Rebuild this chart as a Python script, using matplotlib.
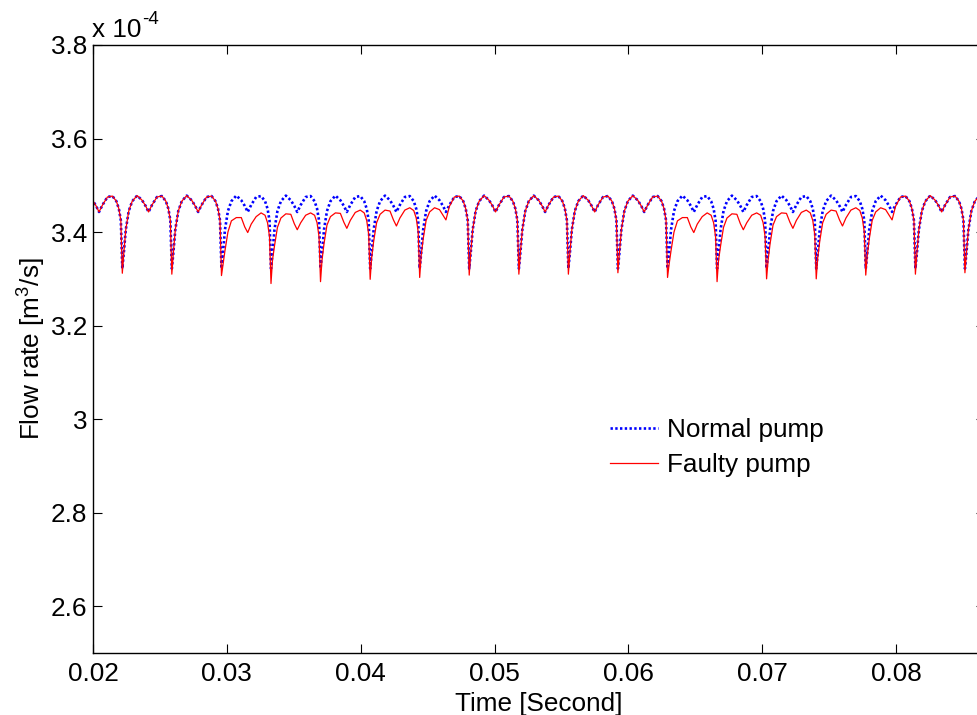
import numpy as np
import matplotlib
matplotlib.use('Agg')
from matplotlib import pyplot as plt

plt.rcParams['font.family'] = ['Liberation Sans', 'DejaVu Sans']
plt.rcParams['mathtext.default'] = 'regular'

# dip positions of the flow ripple (s)
dip_t = [0.01849, 0.02219, 0.02589, 0.02960, 0.03330, 0.03700, 0.04071,
         0.04441, 0.04811, 0.05182, 0.05552, 0.05922, 0.06293, 0.06663,
         0.07033, 0.07404, 0.07774, 0.08145, 0.08515, 0.08885]

# depth of each dip (x 1e-4 m^3/s)
blue_dip = 3.322
red_dip = [3.312, 3.312, 3.310, 3.307, 3.290, 3.294, 3.299, 3.303, 3.308, 3.310,
           3.310, 3.313, 3.303, 3.294, 3.300, 3.300, 3.308, 3.310, 3.313, 3.312]

# position inside one ripple period (0 = dip) and the values read there
phase = [0.0, 0.03, 0.07, 0.13, 0.2, 0.3, 0.4, 0.47, 0.53, 0.6, 0.7, 0.8, 0.88, 0.93, 0.97]
shape_n = [3.355, 3.405, 3.445, 3.466, 3.478, 3.468, 3.456, 3.443, 3.458, 3.475, 3.477, 3.466, 3.450, 3.425]
shape_a = [3.330, 3.360, 3.400, 3.424, 3.431, 3.431, 3.411, 3.399, 3.417, 3.433, 3.441, 3.436, 3.420, 3.390]
shape_b = [3.340, 3.370, 3.410, 3.430, 3.439, 3.438, 3.418, 3.405, 3.420, 3.436, 3.441, 3.436, 3.420, 3.390]
shape_c = [3.340, 3.375, 3.415, 3.433, 3.441, 3.440, 3.421, 3.408, 3.425, 3.442, 3.447, 3.441, 3.425, 3.395]
shape_d = [3.345, 3.380, 3.420, 3.438, 3.447, 3.445, 3.426, 3.413, 3.430, 3.447, 3.452, 3.446, 3.430, 3.400]
shape_e = [3.350, 3.385, 3.425, 3.443, 3.452, 3.448, 3.436, 3.426, 3.455, 3.475, 3.477, 3.466, 3.450, 3.425]
shapes = {'N': shape_n, 'A': shape_a, 'B': shape_b, 'C': shape_c, 'D': shape_d, 'E': shape_e}

# which shape the faulty pump follows in each period
red_kind = 'NNNABCDENNNNABCDENN'

xticks = [0.02, 0.03, 0.04, 0.05, 0.06, 0.07, 0.08]
xtick_labels = ['0.02', '0.03', '0.04', '0.05', '0.06', '0.07', '0.08']
yticks = [2.6, 2.8, 3.0, 3.2, 3.4, 3.6, 3.8]
ytick_labels = ['2.6', '2.8', '3', '3.2', '3.4', '3.6', '3.8']

t, normal, faulty = [], [], []
for i, kind in enumerate(red_kind):
    t0, t1 = dip_t[i], dip_t[i + 1]
    for j, ph in enumerate(phase):
        t.append(t0 + ph * (t1 - t0))
        if j == 0:
            normal.append(blue_dip)
            faulty.append(red_dip[i])
        else:
            normal.append(shape_n[j - 1])
            faulty.append(shapes[kind][j - 1])
t.append(dip_t[-1])
normal.append(blue_dip)
faulty.append(red_dip[-1])

fs = 18.8
fig = plt.figure(figsize=(9.77, 7.15), dpi=100)
ax = fig.add_axes([93 / 977, 62 / 715, 892 / 977, 608 / 715])

ax.plot(t, normal, color='#0000ff', linestyle=(0, (0.9, 0.9)), linewidth=1.9, label='Normal pump')
ax.plot(t, faulty, color='#ff0000', linewidth=0.9, label='Faulty pump')

ax.set_xlim(0.02, 0.08665)
ax.set_ylim(2.5, 3.8)
ax.set_xticks(xticks)
ax.set_xticklabels(xtick_labels)
ax.set_yticks(yticks)
ax.set_yticklabels(ytick_labels)
ax.tick_params(direction='in', length=6.5, width=0.8, top=True, right=True,
               labelsize=fs, pad=4)
ax.tick_params(axis='x', pad=6.5)
for s in ax.spines.values():
    s.set_linewidth(1.0)

ax.set_xlabel('Time [Second]', fontsize=fs, labelpad=4)
ax.set_ylabel('Flow rate [m$^3$/s]', fontsize=fs, labelpad=2)

# exponent label, the way matlab puts it above the axis
fig.text(92 / 977, 1 - 37 / 715, 'x 10', fontsize=fs, ha='left', va='baseline')
fig.text(142 / 977, 1 - 24 / 715, '-4', fontsize=13.5, ha='left', va='baseline')

ax.legend(loc='upper left', bbox_to_anchor=(610 / 977, 1 - 418 / 715),
          bbox_transform=fig.transFigure, frameon=False, fontsize=fs,
          handlelength=1.85, handletextpad=0.35, labelspacing=0.42,
          borderpad=0, borderaxespad=0)

plt.savefig('out.png', dpi=100)
